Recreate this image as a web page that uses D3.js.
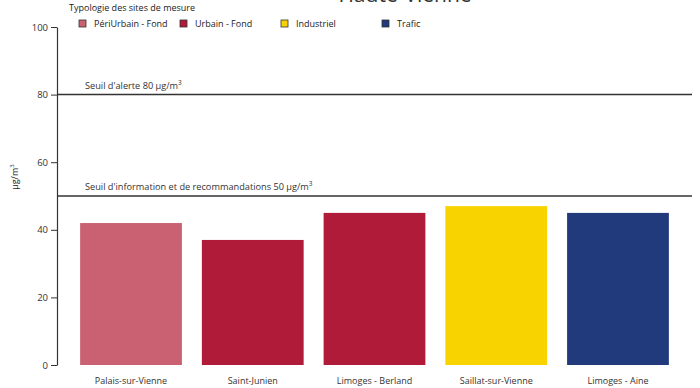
<!DOCTYPE html>
<html>
<head>
<meta charset="utf-8">
<script src="https://cdn.jsdelivr.net/npm/d3@7"></script>
<style>
  html, body { margin: 0; padding: 0; background: #fff; }
  svg { display: block; font-family: "Open Sans", "Liberation Sans", sans-serif; }
</style>
</head>
<body>
<svg id="chart" width="700" height="388"></svg>
<script>
// Stations and their measured concentrations (µg/m³)
const stations = ["Palais-sur-Vienne", "Saint-Junien", "Limoges - Berland", "Saillat-sur-Vienne", "Limoges - Aine"];
const values = [42, 37, 45, 47, 45];
const stationTypes = ["PériUrbain - Fond", "Urbain - Fond", "Urbain - Fond", "Industriel", "Trafic"];

// Site typologies shown in the legend, with their colours
const typeNames = ["PériUrbain - Fond", "Urbain - Fond", "Industriel", "Trafic"];
const typeColors = ["#c96173", "#b11b3a", "#f9d300", "#213a7c"];

// Regulatory thresholds
const thresholdValues = [80, 50];
const thresholdLabels = ["Seuil d'alerte 80 µg/m", "Seuil d'information et de recommandations 50 µg/m"];

const yTicks = [0, 20, 40, 60, 80, 100];

const svg = d3.select("#chart");
const plotLeft = 57, plotRight = 692, plotTop = 27, plotBottom = 365;

const x = d3.scaleBand().domain(stations).range([plotLeft, plotRight])
  .paddingInner(0.164).paddingOuter(0.19);
const y = d3.scaleLinear().domain([0, 100]).range([plotBottom, plotTop]);
const color = d3.scaleOrdinal().domain(typeNames).range(typeColors);

// Title (partly above the visible area)
svg.append("text")
  .attr("x", 405).attr("y", 2)
  .attr("text-anchor", "middle")
  .attr("font-size", 21)
  .attr("fill", "#333")
  .text("Haute-Vienne");

// Bars
svg.append("g").selectAll("rect")
  .data(stations)
  .join("rect")
  .attr("x", d => x(d))
  .attr("width", x.bandwidth())
  .attr("y", (d, i) => y(values[i]))
  .attr("height", (d, i) => y(0) - y(values[i]))
  .attr("fill", (d, i) => color(stationTypes[i]));

// Y axis
const yAxis = svg.append("g")
  .attr("transform", `translate(${plotLeft},0)`)
  .call(d3.axisLeft(y).tickValues(yTicks).tickSize(6).tickPadding(3).tickSizeOuter(0));
yAxis.select(".domain").attr("stroke", "#333").attr("stroke-width", 1.2);
yAxis.selectAll(".tick line").attr("stroke", "#333");
yAxis.selectAll(".tick text").attr("font-size", 9.5).attr("fill", "#333")
  .style("font-family", "'Open Sans', sans-serif");

// Y axis title
const yt = svg.append("text")
  .attr("transform", `translate(18,${(y(60) + y(50)) / 2 - 2}) rotate(-90)`)
  .attr("text-anchor", "middle")
  .attr("font-size", 9)
  .attr("fill", "#222");
yt.append("tspan").text("µg/m");
yt.append("tspan").attr("font-size", 6).attr("dy", -4).text("3");

// X axis labels
svg.append("g").selectAll("text")
  .data(stations)
  .join("text")
  .attr("x", d => x(d) + x.bandwidth() / 2)
  .attr("y", 384)
  .attr("text-anchor", "middle")
  .attr("font-size", 9)
  .attr("fill", "#333")
  .text(d => d);

// Threshold lines and labels
const th = svg.append("g");
thresholdValues.forEach((v, i) => {
  th.append("line")
    .attr("x1", plotLeft).attr("x2", plotRight)
    .attr("y1", y(v)).attr("y2", y(v))
    .attr("stroke", "#333").attr("stroke-width", 1.5);
  const t = th.append("text")
    .attr("x", 85).attr("y", y(v) - 6)
    .attr("font-size", 9.2)
    .attr("fill", "#333");
  t.append("tspan").text(thresholdLabels[i]);
  t.append("tspan").attr("font-size", 6.5).attr("dy", -4).text("3");
});

// Legend
const legend = svg.append("g");
legend.append("text")
  .attr("x", 69).attr("y", 11)
  .attr("font-size", 9)
  .attr("fill", "#222")
  .text("Typologie des sites de mesure");
const items = legend.selectAll("g.item")
  .data(typeNames)
  .join("g")
  .attr("class", "item")
  .attr("transform", (d, i) => `translate(${79 + i * 101},20)`);
items.append("rect")
  .attr("width", 7).attr("height", 7)
  .attr("fill", d => color(d))
  .attr("stroke", "#333").attr("stroke-width", 0.8);
items.append("text")
  .attr("x", 15).attr("y", 7)
  .attr("font-size", 9)
  .attr("fill", "#222")
  .text(d => d);
</script>
</body>
</html>
